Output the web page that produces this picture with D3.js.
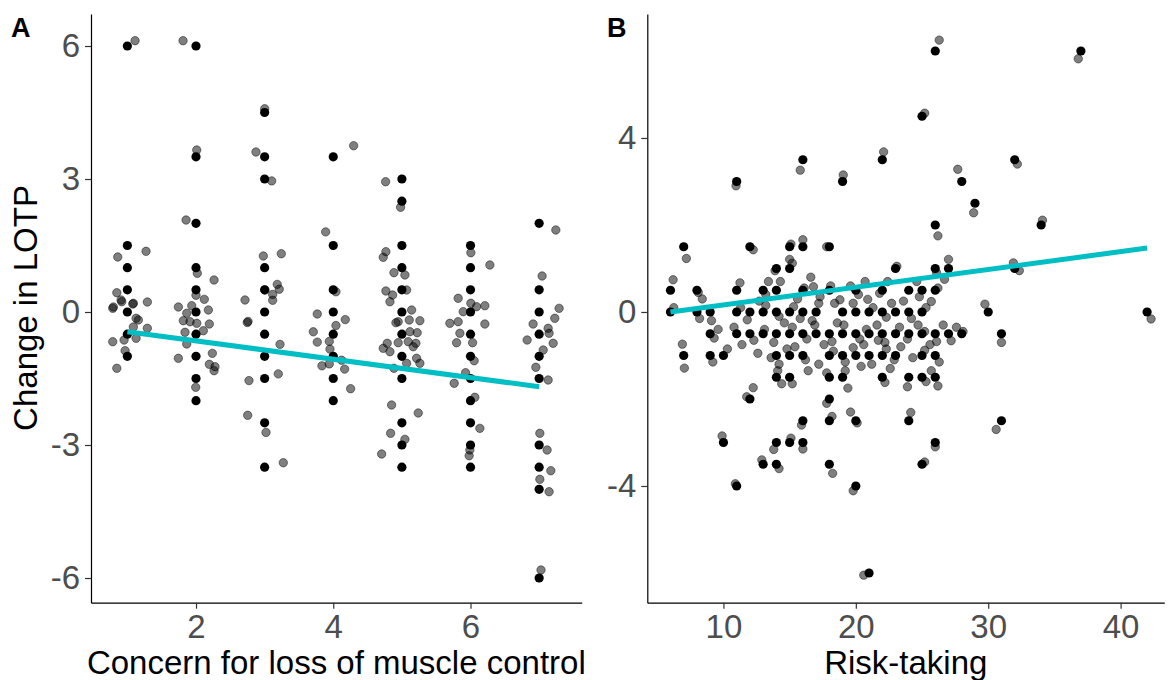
<!DOCTYPE html>
<html>
<head>
<meta charset="utf-8">
<script src="https://cdn.jsdelivr.net/npm/d3@7"></script>
<style>
  html, body { margin: 0; padding: 0; background: #fff; }
  svg { display: block; font-family: "Liberation Sans", Arial, sans-serif; }
</style>
</head>
<body>
<svg id="chart" width="1168" height="680"></svg>
<script>
// ---- Panel A: concern for loss of muscle control vs change in LOTP ----
const concernLevels = [1, 2, 3, 4, 5, 6, 7];

// observed (concern, change) combinations
const exactA = [
  [1, 6], [1, 1.5], [1, 1], [1, 0.5], [1, 0], [1, -0.5], [1, -1],
  [2, 6], [2, 3.5], [2, 2], [2, 1], [2, 0.5], [2, 0], [2, -0.5], [2, -1], [2, -1.5], [2, -2],
  [3, 4.5], [3, 3.5], [3, 3], [3, 1], [3, 0.5], [3, 0], [3, -0.5], [3, -1], [3, -1.5], [3, -2.5], [3, -3.5],
  [4, 3.5], [4, 1.5], [4, 0.5], [4, 0], [4, -0.5], [4, -1], [4, -1.5], [4, -2],
  [5, 3], [5, 2.5], [5, 1.5], [5, 1], [5, 0.5], [5, 0], [5, -0.5], [5, -1], [5, -1.5], [5, -2.5], [5, -3], [5, -3.5],
  [6, 1.5], [6, 1], [6, 0.5], [6, 0], [6, -0.5], [6, -1], [6, -1.5], [6, -2], [6, -2.5], [6, -3], [6, -3.5],
  [7, 2], [7, 0.5], [7, 0], [7, -0.5], [7, -1], [7, -1.5], [7, -3], [7, -3.5], [7, -4], [7, -6]
];

// every participant, jittered
const jitterA = [
  [1.112, 6.12], [1.272, 1.369], [0.860, 1.241], [0.846, 0.435], [0.908, 0.271], [1.291, 0.226],
  [0.796, 0.113], [1.079, 0.180], [0.787, 0.083], [0.918, 0.232], [1.087, 0.196], [1.127, -0.142],
  [1.160, -0.180], [1.291, -0.368], [1.087, -0.338], [0.787, -0.670], [0.952, -0.632], [1.127, -0.593],
  [0.967, -0.873], [0.846, -1.270],
  [1.811, 6.12], [2.011, 3.654], [1.855, 2.075], [2.019, 0.873], [2.263, 0.722], [2.000, 0.377],
  [2.121, 0.286], [1.743, 0.113], [1.938, 0.142], [2.180, 0.045], [1.865, -0.029], [1.815, -0.196],
  [1.913, -0.219], [2.011, -0.255], [2.194, -0.271], [2.107, -0.422], [1.840, -0.458], [1.865, -0.722],
  [1.743, -1.044], [2.238, -0.932], [2.194, -1.180], [2.263, -1.324], [2.277, -1.234], [1.996, -1.699],
  [3.001, 4.584], [2.874, 3.609], [3.103, 2.957], [2.981, 1.263], [3.243, 1.315], [2.714, 0.271],
  [3.005, 0.496], [3.184, 0.623], [3.213, 0.514], [3.117, 0.397], [3.117, 0.264], [2.758, -0.212],
  [2.747, -0.237], [3.224, -0.729], [3.199, -1.396], [2.772, -1.547], [2.753, -2.330], [3.020, -2.716],
  [3.272, -3.400],
  [4.297, 3.751], [3.889, 1.807], [4.039, 0.456], [3.767, -0.045], [4.175, -0.171], [4.039, -0.305],
  [3.709, -0.447], [3.767, -0.679], [3.942, -0.663], [3.952, -0.837], [3.835, -1.214], [3.942, -1.171],
  [4.122, -1.087], [4.166, -1.288], [4.253, -1.730],
  [4.763, 2.939], [4.981, 2.362], [4.767, 1.360], [4.728, 1.234], [4.884, 0.887], [5.044, 0.835],
  [4.767, 0.474], [4.865, 0.383], [4.826, 0.232], [5.069, 0.496], [5.142, 0.045], [4.946, -0.219],
  [4.913, -0.241], [5.107, -0.180], [5.262, -0.196], [5.223, -0.467], [5.117, -0.444], [4.786, -0.706],
  [4.728, -0.819], [4.826, -0.896], [4.946, -0.693], [5.092, -0.670], [5.204, -0.706], [5.165, -0.783],
  [5.214, -1.044], [5.262, -1.157], [5.069, -1.157], [4.884, -1.270], [4.850, -2.098], [5.238, -2.278],
  [4.836, -2.736], [5.044, -2.872], [4.705, -3.203],
  [6.005, 1.338], [6.282, 1.060], [5.820, 0.309], [6.005, 0.196], [6.088, 0.120], [5.893, 0.007],
  [6.209, 0.142], [5.820, -0.219], [5.699, -0.255], [6.209, -0.271], [5.845, -0.480], [5.797, -0.693],
  [6.030, -0.693], [6.053, -1.099], [5.928, -1.369], [5.762, -1.608], [6.063, -1.924], [6.136, -2.624],
  [5.990, -3.113], [5.980, -3.242],
  [7.243, 1.850], [7.043, 0.812], [7.291, 0.083], [7.228, -0.142], [6.912, -0.271], [7.131, -0.368],
  [7.145, -0.480], [6.825, -0.632], [7.204, -0.706], [7.059, -0.857], [6.952, -1.247], [7.131, -1.534],
  [7.010, -2.736], [7.116, -3.113], [7.170, -3.580], [7.010, -3.774], [7.145, -4.054], [7.027, -5.820]
];

// linear fit: change = intercept + slope * concern
const fitA = { intercept: -0.237, slope: -0.207, from: 1, to: 7 };

// ---- Panel B: risk-taking vs change in LOTP ----
const exactB = [
  [37, 6], [26, 6],
  [25, 4.5],
  [16, 3.5], [22, 3.5], [32, 3.5],
  [11, 3], [19, 3], [28, 3],
  [29, 2.5],
  [26, 2], [34, 2],
  [7, 1.5], [12, 1.5], [15, 1.5], [16, 1.5], [18, 1.5],
  [14, 1], [15, 1], [23, 1], [26, 1], [27, 1], [32, 1],
  [6, 0.5], [8, 0.5], [11, 0.5], [13, 0.5], [14, 0.5], [16, 0.5], [18, 0.5], [20, 0.5], [22, 0.5], [24, 0.5], [25, 0.5], [26, 0.5],
  [6, 0], [8, 0], [9, 0], [11, 0], [12, 0], [13, 0], [14, 0], [15, 0], [16, 0], [17, 0], [19, 0], [20, 0],
  [21, 0], [22, 0], [23, 0], [24, 0], [25, 0], [30, 0], [42, 0],
  [9, -0.5], [11, -0.5], [12, -0.5], [13, -0.5], [14, -0.5], [15, -0.5], [16, -0.5], [17, -0.5], [18, -0.5], [19, -0.5],
  [20, -0.5], [21, -0.5], [22, -0.5], [23, -0.5], [24, -0.5], [25, -0.5], [26, -0.5], [27, -0.5], [28, -0.5], [31, -0.5],
  [7, -1], [9, -1], [10, -1], [14, -1], [15, -1], [16, -1], [18, -1], [19, -1], [20, -1], [21, -1], [22, -1], [23, -1], [25, -1], [26, -1],
  [14, -1.5], [15, -1.5], [18, -1.5], [19, -1.5], [22, -1.5], [24, -1.5], [25, -1.5], [26, -1.5],
  [12, -2], [18, -2],
  [16, -2.5], [18, -2.5], [20, -2.5], [24, -2.5], [31, -2.5],
  [10, -3], [14, -3], [15, -3], [16, -3], [26, -3],
  [13, -3.5], [14, -3.5], [18, -3.5], [25, -3.5],
  [11, -4], [20, -4],
  [21, -6]
];

const jitterB = [
  [36.8, 5.82], [26.3, 6.25],
  [25.2, 4.57],
  [15.8, 3.26], [22.1, 3.68], [32.2, 3.4],
  [10.95, 2.9], [19.05, 3.15], [27.7, 3.28],
  [28.9, 2.28],
  [26.2, 1.75], [34.1, 2.11],
  [7.2, 1.23], [12.25, 1.43], [15.1, 1.56], [16.0, 1.66], [17.8, 1.5],
  [13.9, 0.95], [15.0, 1.21], [15.2, 1.12], [23.1, 1.05], [26.1, 0.9], [27.0, 1.21], [31.9, 1.13], [32.35, 0.95],
  [6.2, 0.74], [8.1, 0.45], [11.25, 0.67], [13.2, 0.4], [14.3, 0.7], [16.1, 0.55], [16.8, 0.58], [18.1, 0.6],
  [20.2, 0.4], [21.8, 0.43], [24.6, 0.7], [25.7, 0.24], [26.2, 0.55],
  [6.25, 0.1], [8.2, -0.15], [9.1, -0.2], [11.3, 0.1], [11.8, -0.18], [13.2, 0.15], [14.2, -0.1], [15.3, 0.12],
  [15.8, -0.15], [17.2, 0.2], [18.8, 0.28], [19.8, 0.2], [20.9, 0.29], [22.3, -0.12], [22.7, 0.2], [24.2, -0.15],
  [25.3, 0.1], [29.75, 0.18], [42.3, -0.16],
  [9.3, -0.6], [10.8, -0.35], [12.3, -0.65], [13.1, -0.4], [13.8, -0.7], [15.2, -0.35], [16.3, -0.62], [16.9, -0.3],
  [18.2, -0.68], [19.1, -0.3], [20.3, -0.62], [20.8, -0.4], [22.2, -0.7], [23.3, -0.35], [23.9, -0.62], [25.2, -0.45],
  [26.1, -0.68], [27.2, -0.66], [28.1, -0.45], [31.0, -0.7],
  [6.9, -0.74], [7.05, -1.29], [9.2, -1.15], [10.3, -0.85], [14.2, -1.2], [14.8, -0.85], [16.2, -1.1], [18.3, -0.9],
  [19.2, -1.15], [19.8, -0.82], [21.2, -1.2], [22.3, -0.85], [22.9, -1.1], [25.2, -0.88], [26.3, -1.15],
  [14.1, -1.35], [15.2, -1.65], [17.8, -1.4], [19.2, -1.35], [22.2, -1.62], [23.9, -1.72], [25.3, -1.6], [26.2, -1.7],
  [12.25, -1.74], [11.76, -1.95], [17.8, -2.1],
  [15.9, -2.6], [18.2, -2.4], [20.1, -2.55], [24.15, -2.31], [30.6, -2.7],
  [9.9, -2.85], [13.8, -3.16], [15.1, -2.9], [16.0, -3.15], [26.0, -3.1],
  [12.9, -3.4], [14.2, -3.6], [18.25, -3.71], [25.2, -3.45],
  [10.9, -3.95], [19.8, -4.11],
  [20.6, -6.05],
  [12.7, 0.25], [14.6, -0.25], [15.6, 0.3], [16.7, -0.2], [17.6, -0.75], [18.6, -0.25], [19.6, 0.6], [20.6, -0.75],
  [21.3, 0.1], [21.6, -0.3], [22.6, -1.3], [23.6, 0.25], [24.3, -1.05], [24.7, -0.3], [25.6, -0.75], [13.6, -1.05],
  [14.4, -1.65], [15.4, -0.8], [16.4, -1.35], [17.3, 0.35], [18.4, 0.2], [19.4, -1.75], [20.4, -1.25], [21.7, -0.65],
  [22.4, 0.7], [23.4, -0.8], [25.7, -1.35], [26.6, -0.3], [27.6, -0.35], [11.4, -0.75], [12.6, -0.95], [13.4, 0.7],
  [16.6, 0.8], [9.6, -0.4], [8.4, 0.3], [20.7, 0.7], [24.8, 0.35], [26.7, 0.75], [17.2, -1.2], [19.6, -2.3]
];

const fitB = { intercept: -0.245, slope: 0.0408, from: 6, to: 42 };

// axis ticks
const ticksAx = [2, 4, 6];
const ticksAy = [-6, -3, 0, 3, 6];
const ticksBx = [10, 20, 30, 40];
const ticksBy = [-4, 0, 4];

// ---- drawing ----
const svg = d3.select("#chart");
const FIT_COLOR = "#00BFC4";
const fmt = d => String(d).replace("\u2212", "-");

function panel(cfg) {
  const x = d3.scaleLinear().domain(cfg.xDomain).range([cfg.left, cfg.right]);
  const y = d3.scaleLinear().domain(cfg.yDomain).range([cfg.bottom, cfg.top]);
  const g = svg.append("g");

  // jittered participants (semi-transparent)
  g.append("g").selectAll("circle").data(cfg.jitter).join("circle")
    .attr("cx", d => x(d[0])).attr("cy", d => y(d[1])).attr("r", 4.2)
    .attr("fill", "rgba(0,0,0,0.5)")
    .attr("stroke", "rgba(0,0,0,0.5)").attr("stroke-width", 0.9);

  // observed values (opaque)
  g.append("g").selectAll("circle").data(cfg.exact).join("circle")
    .attr("cx", d => x(d[0])).attr("cy", d => y(d[1])).attr("r", 4.6)
    .attr("fill", "#000");

  // fitted regression line
  const f = cfg.fit;
  const fitPts = [f.from, f.to].map(v => [v, f.intercept + f.slope * v]);
  g.append("path")
    .attr("d", d3.line().x(d => x(d[0])).y(d => y(d[1]))(fitPts))
    .attr("stroke", FIT_COLOR).attr("stroke-width", 5).attr("fill", "none");

  // axes
  const ax = g.append("g").attr("transform", `translate(0,${cfg.bottom})`)
    .call(d3.axisBottom(x).tickValues(cfg.xTicks).tickFormat(fmt).tickSize(6).tickSizeOuter(0).tickPadding(6));
  const ay = g.append("g").attr("transform", `translate(${cfg.left},0)`)
    .call(d3.axisLeft(y).tickValues(cfg.yTicks).tickFormat(fmt).tickSize(6).tickSizeOuter(0).tickPadding(5));
  [ax, ay].forEach(a => {
    a.select(".domain").attr("stroke", "#000").attr("stroke-width", 1.2);
    a.selectAll(".tick line").attr("stroke", "#333").attr("stroke-width", 1.2);
    a.selectAll(".tick text").attr("fill", "#4D4D4D")
      .style("font-size", "33px").style("font-family", "'Liberation Sans', Arial, sans-serif");
  });

  // x-axis title
  g.append("text").attr("x", (cfg.left + cfg.right) / 2).attr("y", 674)
    .attr("text-anchor", "middle").attr("fill", "#000")
    .style("font-size", "33px").text(cfg.xTitle);

  // panel tag
  g.append("text").attr("x", cfg.tagX).attr("y", 37)
    .attr("fill", "#000").style("font-size", "27px").style("font-weight", "bold")
    .text(cfg.tag);

  return g;
}

panel({
  left: 91, right: 581.7, top: 14, bottom: 602.7,
  xDomain: [0.47, 7.62], yDomain: [-6.557, 6.722],
  exact: exactA, jitter: jitterA, fit: fitA,
  xTicks: ticksAx, yTicks: ticksAy,
  xTitle: "Concern for loss of muscle control", tag: "A", tagX: 11
});

panel({
  left: 647.3, right: 1164.3, top: 14, bottom: 602.7,
  xDomain: [4.25, 43.3], yDomain: [-6.683, 6.85],
  exact: exactB, jitter: jitterB, fit: fitB,
  xTicks: ticksBx, yTicks: ticksBy,
  xTitle: "Risk-taking", tag: "B", tagX: 607
});

// shared y-axis title
svg.append("text")
  .attr("transform", "translate(37,308) rotate(-90)")
  .attr("text-anchor", "middle").attr("fill", "#000")
  .style("font-size", "33px").text("Change in LOTP");
</script>
</body>
</html>
